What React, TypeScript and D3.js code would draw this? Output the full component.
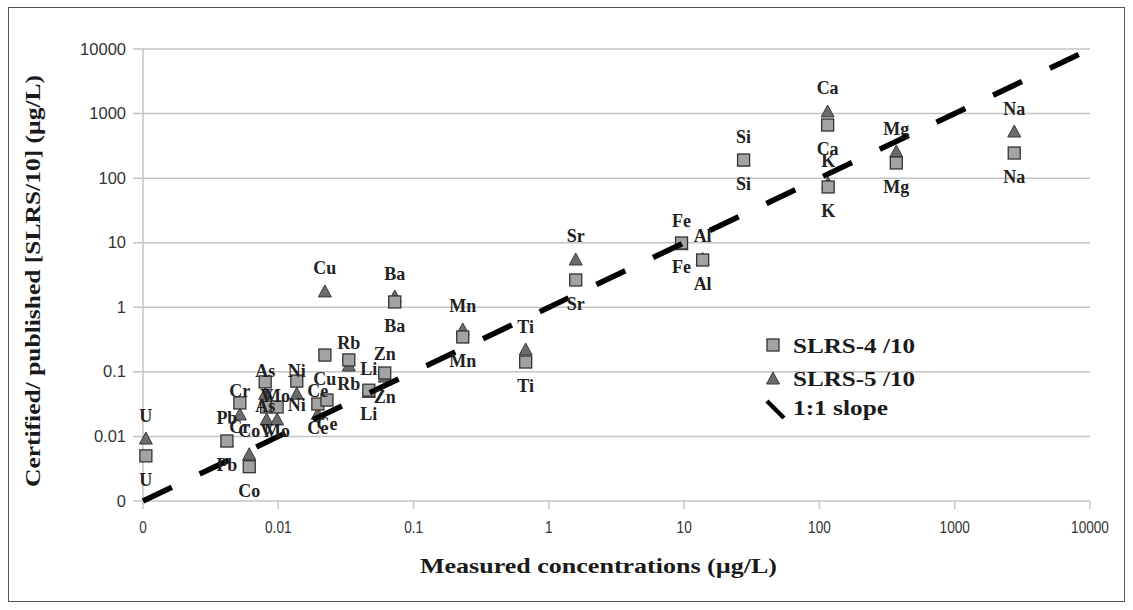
import React from 'react';
import * as d3 from 'd3';

const elements = ['U', 'Pb', 'Cr', 'Co', 'As', 'V', 'Mo', 'Ni', 'Ce', 'Ce', 'Cu', 'Rb', 'Li', 'Zn', 'Ba', 'Mn', 'Ti', 'Sr', 'Fe', 'Al', 'Si', 'Ca', 'K', 'Mg', 'Na'];
const measured = [0.00105, 0.00417, 0.0052, 0.0061, 0.008, 0.0082, 0.0098, 0.0137, 0.0196, 0.0229, 0.0221, 0.0332, 0.0467, 0.0612, 0.0726, 0.231, 0.674, 1.58, 9.57, 13.7, 27.5, 115, 116, 370, 2754];
const slrs4 = [0.005, 0.0085, 0.033, 0.0034, 0.07, 0.0286, 0.0286, 0.072, 0.0318, 0.0366, 0.182, 0.153, 0.052, 0.096, 1.21, 0.347, 0.142, 2.65, 9.9, 5.4, 191, 665, 73, 172, 245];
const slrs5: (number | null)[] = [0.0091, 0.0083, 0.0215, 0.0052, 0.045, 0.018, 0.018, 0.045, 0.022, null, 1.73, 0.123, 0.048, 0.083, 1.44, 0.445, 0.218, 5.4, 9.3, 5.5, 185, 1058, 81, 254, 518];
const slopeLine = [0.001, 10000];
const tickValues = [0.001, 0.01, 0.1, 1, 10, 100, 1000, 10000];
const tickLabels = ['0', '0.01', '0.1', '1', '10', '100', '1000', '10000'];
const legendLabels = ['SLRS-4 /10', 'SLRS-5 /10', '1:1 slope'];

const W = 1133;
const H = 610;
const serif = '"Liberation Serif", "Times New Roman", serif';
const sans = '"Liberation Sans", Arial, sans-serif';

export default function App() {
  const x = d3.scaleLog().domain([0.001, 10000]).range([143, 1090]);
  const y = d3.scaleLog().domain([0.001, 10000]).range([501, 49]);
  const line = d3.line<number>().x((d) => x(d)).y((d) => y(d));
  const tri = 'M0,-7L6.5,5L-6.5,5Z';
  const labelStyle = { fontFamily: serif, fontWeight: 700, fontSize: 18, fill: '#222' } as const;

  return (
    <svg width={W} height={H} style={{ position: 'absolute', left: 0, top: 0, background: '#fff' }}>
      <rect x={8.5} y={7.5} width={1116} height={594} fill="#fff" stroke="#555" strokeWidth={1} />
      {/* gridlines and y ticks */}
      {tickValues.map((t, i) => (
        <g key={'gy' + i}>
          <line x1={133} x2={1090} y1={y(t)} y2={y(t)} stroke="#c4c4c4" strokeWidth={1.5} />
          <text x={126} y={y(t) + 5.5} textAnchor="end" fontFamily={sans} fontSize={16.5} fill="#333">
            {tickLabels[i]}
          </text>
        </g>
      ))}
      <line x1={143} x2={143} y1={49} y2={501} stroke="#c4c4c4" strokeWidth={1.5} />
      {tickValues.map((t, i) => (
        <g key={'gx' + i}>
          <line x1={x(t)} x2={x(t)} y1={501} y2={509} stroke="#c4c4c4" strokeWidth={1.5} />
          <text transform={`translate(${x(t)},533) scale(0.85,1)`} textAnchor="middle" fontFamily={sans} fontSize={16} fill="#333">
            {tickLabels[i]}
          </text>
        </g>
      ))}
      {/* SLRS-5 triangles */}
      {elements.map((e, i) =>
        slrs5[i] == null ? null : (
          <path key={'t' + i} d={tri} transform={`translate(${x(measured[i])},${y(slrs5[i] as number)})`} fill="#6b6b6b" stroke="#3a3a3a" strokeWidth={1} />
        )
      )}
      {/* SLRS-4 squares */}
      {elements.map((e, i) => (
        <rect key={'s' + i} x={x(measured[i]) - 6} y={y(slrs4[i]) - 6} width={12} height={12} fill="#a3a3a3" stroke="#333" strokeWidth={1.3} />
      ))}
      {/* 1:1 line */}
      <path d={line(slopeLine) || ''} fill="none" stroke="#000" strokeWidth={5.5} strokeDasharray="32 30.8" />
      {/* labels */}
      {elements.map((e, i) =>
        slrs5[i] == null ? null : (
          <text key={'lt' + i} x={x(measured[i])} y={y(slrs5[i] as number) - 17.5} textAnchor="middle" style={labelStyle}>
            {e}
          </text>
        )
      )}
      {elements.map((e, i) => (
        <text key={'ls' + i} x={x(measured[i])} y={y(slrs4[i]) + 30} textAnchor="middle" style={labelStyle}>
          {e}
        </text>
      ))}
      {/* legend */}
      <rect x={767} y={339} width={12} height={12} fill="#a3a3a3" stroke="#333" strokeWidth={1.3} />
      <path d={tri} transform="translate(773,379)" fill="#6b6b6b" stroke="#3a3a3a" strokeWidth={1} />
      <line x1={767} y1={401} x2={784} y2={418} stroke="#000" strokeWidth={4.5} />
      {legendLabels.map((l, i) => (
        <text key={'lg' + i} x={793} y={[353, 386, 415][i]} fontFamily={serif} fontWeight={700} fontSize={21} fill="#1a1a1a" textLength={[122, 122, 95][i]} lengthAdjust="spacingAndGlyphs">
          {l}
        </text>
      ))}
      {/* axis titles */}
      <text x={420} y={573} fontFamily={serif} fontWeight={700} fontSize={22} fill="#1a1a1a" textLength={357} lengthAdjust="spacingAndGlyphs">
        Measured concentrations (µg/L)
      </text>
      <text transform="translate(40,281) rotate(-90)" textAnchor="middle" fontFamily={serif} fontWeight={700} fontSize={22} fill="#1a1a1a" textLength={412} lengthAdjust="spacingAndGlyphs">
        Certified/ published [SLRS/10] (µg/L)
      </text>
    </svg>
  );
}
